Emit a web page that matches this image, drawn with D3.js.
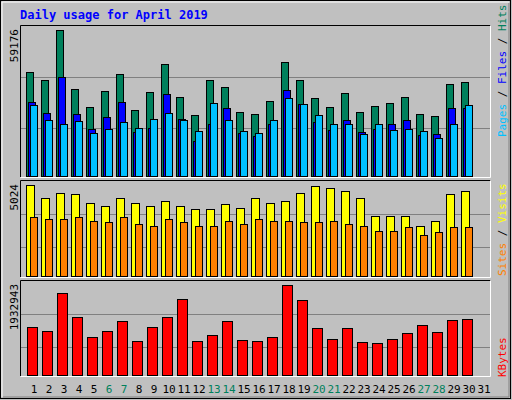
<!DOCTYPE html><html><head><meta charset="utf-8">
<script src="https://cdn.jsdelivr.net/npm/d3@7"></script>
<style>body{margin:0;background:#fff}svg{display:block}text{font-family:"DejaVu Sans Mono",monospace}</style>
</head><body><svg id="c" width="512" height="400"></svg>
<script>
const days = d3.range(1,32);
const weekends = [6,7,13,14,20,21,27,28];
const hits = [41904,38691,59176,35077,27847,34273,41101,26642,33872,45118,31863,24634,38691,35880,25839,25036,30257,45921,38691,31462,27847,33470,25839,28249,29454,31863,25036,24232,37085,37888];
const files = [29855,25437,39896,25036,19011,23831,29855,17806,19413,33068,23027,14191,21019,27445,17404,16199,21019,34675,29052,21822,18609,22626,17806,19011,21019,22626,16601,17003,27445,27445];
const pages = [28650,22626,21019,22224,17404,19011,21822,19413,23027,25437,22626,18208,29454,22626,18208,17404,22626,31462,29052,24634,21019,21019,17003,21019,18609,19011,18208,15396,21019,28650];
const visits = [5024,4314,4533,4478,4041,3877,4260,4041,3823,4096,3877,3713,3713,3986,3768,4260,4041,4096,4587,4915,4806,4642,4314,3277,3277,3277,2785,3004,4478,4696];
const sites = [3222,3113,3167,3222,3058,2949,3222,2894,2785,3167,2949,2785,2785,3004,2894,3113,3058,3058,2949,2949,3004,2894,2785,2512,2512,2676,2239,2403,2676,2676];
const kbytes = [1019578,934613,1762968,1231993,807166,934613,1147027,722201,1019578,1231993,1614331,722201,849648,1147027,743442,722201,807166,1932943,1593090,998336,764683,998336,700960,679718,764683,892131,1062060,913372,1168268,1189509];

const svg = d3.select("#c");
svg.append("rect").attr("x",0).attr("y",0).attr("width",512).attr("height",400).attr("fill","#c0c0c0");
svg.append("rect").attr("x",0.5).attr("y",0.5).attr("width",510).attr("height",398).attr("fill","none").attr("stroke","#000");
svg.append("path").attr("d","M2,397V2H509").attr("stroke","#fff").attr("fill","none");
svg.append("path").attr("d","M3,397H509V3").attr("stroke","#808080").attr("fill","none");
svg.append("text").attr("x",20).attr("y",19).attr("fill","#0000ff").attr("font-size",12).attr("font-weight","bold").text("Daily usage for April 2019");

const x = d3.scaleBand().domain(days).range([25.5,490.5]).paddingInner(0);
function cx(d){return x(d)+x.bandwidth()/2;}

function panel(top,bottom,maxH,grids){
  svg.append("rect").attr("x",20).attr("y",top).attr("width",471).attr("height",bottom-top).attr("fill","#c0c0c0");
  svg.append("path").attr("d",`M20.5,${bottom}V${top+0.5}H490.5`).attr("stroke","#000").attr("fill","none");
  svg.append("path").attr("d",`M20.5,${bottom+0.5}H490.5V${top+0.5}`).attr("stroke","#fff").attr("fill","none");
  grids.forEach(g=>svg.append("line").attr("x1",21).attr("x2",490).attr("y1",bottom-g+0.5).attr("y2",bottom-g+0.5).attr("stroke","#808080"));
}
function bars(data,max,base,maxH,off,w,color){
  const y = d3.scaleLinear().domain([0,max]).range([base,base-maxH]);
  svg.append("g").selectAll("rect").data(data).join("rect")
    .attr("x",(d,i)=>Math.round(cx(i+1)-7.5+off)+0.5).attr("y",d=>Math.round(y(d))+0.5)
    .attr("width",w).attr("height",d=>base-Math.round(y(d))-0.5)
    .attr("fill",color).attr("stroke","#000");
}
// top
panel(25,177,147,[100,49]);
const hmax = d3.max(hits);
bars(hits,hmax,176.5,147,0,7,"#00805c");
bars(files,hmax,176.5,147,2,7,"#0000ff");
bars(pages,hmax,176.5,147,4,7,"#00c0ff");
// middle
panel(180,277,92,[63,30]);
const vmax = d3.max(visits);
bars(visits,vmax,276.5,92,0,8,"#ffff00");
bars(sites,vmax,276.5,92,4,7,"#ff8000");
// bottom
panel(280,376,91,[62,29]);
bars(kbytes,d3.max(kbytes),375.5,91,1,10,"#ff0000");

// day labels
svg.append("g").selectAll("text").data(days).join("text")
  .attr("x",d=>cx(d)+1).attr("y",393).attr("text-anchor","middle").attr("font-size",11)
  .attr("fill",d=>weekends.includes(d)?"#00805c":"#000").text(d=>d);

// max labels
function leftLabel(txt,y){svg.append("text").attr("transform",`translate(18,${y}) rotate(-90)`).attr("font-size",11).attr("text-anchor","end").text(txt);}
leftLabel(d3.max(hits),29);
leftLabel(d3.max(visits),184);
leftLabel(d3.max(kbytes),284);

function rightLabel(parts,y){
  const t=svg.append("text").attr("transform",`translate(506,${y}) rotate(-90)`).attr("font-size",11);
  parts.forEach(p=>t.append("tspan").attr("fill",p[1]).text(p[0]));
}
rightLabel([["Pages","#00c0ff"],[" / ","#000"],["Files","#0000ff"],[" / ","#000"],["Hits","#00805c"]],137);
rightLabel([["Sites","#ff8000"],[" / ","#000"],["Visits","#ffff00"]],276);
rightLabel([["KBytes","#ff0000"]],377);
</script></body></html>
